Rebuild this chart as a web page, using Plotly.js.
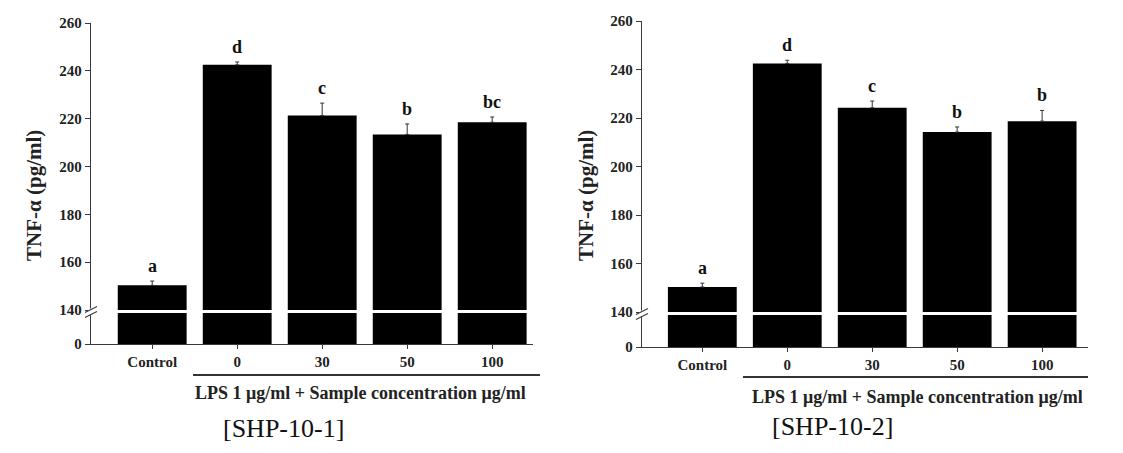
<!DOCTYPE html>
<html>
<head>
<meta charset="utf-8">
<script src="https://cdn.plot.ly/plotly-3.0.1.min.js"></script>
<style>html,body{margin:0;padding:0;background:#fff;}#chart{width:1123px;height:453px;}</style>
</head>
<body>
<div id="chart"></div>
<script>
// ---- data ----
const categories = ["Control", "0", "30", "50", "100"];
const values1 = [150.3, 242.5, 221.3, 213.4, 218.5];
const errors1 = [1.8, 1.2, 5.2, 4.4, 2.2];
const letters1 = ["a", "d", "c", "b", "bc"];
const values2 = [150.3, 242.5, 224.2, 214.2, 218.7];
const errors2 = [1.6, 1.3, 2.8, 2.1, 4.4];
const letters2 = ["a", "d", "c", "b", "b"];
const yTicks = [140, 160, 180, 200, 220, 240, 260];
const yTitle = "TNF-α (pg/ml)";
const groupLabel = "LPS 1 μg/ml + Sample concentration μg/ml";
const captions = ["[SHP-10-1]", "[SHP-10-2]"];

// ---- helpers (pixel -> paper) ----
const W = 1123, H = 453;
const px = x => x / W;
const py = y => 1 - y / H;

const serif = "Liberation Serif, Times New Roman, serif";
const axisColor = "#3a3a3a";
const tickFont = {family: serif, size: 15, color: "#222", weight: "bold"};

function barPair(vals, errs, xa, yUp, yLow) {
  const up = {
    type: "bar", x: categories, y: vals, xaxis: xa, yaxis: yUp,
    marker: {color: "#000", line: {width: 0}},
    error_y: {type: "data", symmetric: false, array: errs, arrayminus: errs.map(() => 0),
              color: "#333", thickness: 1, width: 2},
    hoverinfo: "skip", showlegend: false
  };
  const low = {
    type: "bar", x: categories, y: vals, xaxis: xa, yaxis: yLow,
    marker: {color: "#000", line: {width: 0}},
    hoverinfo: "skip", showlegend: false
  };
  return [up, low];
}

const traces = [
  ...barPair(values1, errors1, "x", "y", "y2"),
  ...barPair(values2, errors2, "x2", "y3", "y4")
];

function xaxisDef(d0, d1, r0, r1, anchor) {
  return {
    type: "category", categoryarray: categories, categoryorder: "array",
    domain: [px(d0), px(d1)], range: [r0, r1], anchor: anchor,
    showline: true, linecolor: axisColor, linewidth: 1.2,
    ticks: "outside", ticklen: 4, tickcolor: axisColor,
    showgrid: false, zeroline: false, tickfont: tickFont, fixedrange: true
  };
}
function yUpDef(top, bottom, anchor) {
  return {
    domain: [py(bottom), py(top)], range: [140, 260], anchor: anchor,
    tickvals: yTicks, ticktext: yTicks.map(String),
    showline: true, linecolor: axisColor, linewidth: 1.2,
    ticks: "outside", ticklen: 5, tickcolor: axisColor,
    showgrid: false, zeroline: false, tickfont: tickFont, fixedrange: true
  };
}
function yLowDef(top, bottom, anchor) {
  return {
    domain: [py(bottom), py(top)], range: [0, 140], anchor: anchor,
    tickvals: [0], ticktext: ["0"],
    showline: true, linecolor: axisColor, linewidth: 1.2,
    ticks: "outside", ticklen: 5, tickcolor: axisColor,
    showgrid: false, zeroline: false, tickfont: tickFont, fixedrange: true
  };
}

const annotations = [];
function letterAnn(vals, errs, letters, xa, ya) {
  vals.forEach((v, i) => {
    annotations.push({
      x: i, y: v + errs[i], xref: xa, yref: ya,
      text: letters[i], showarrow: false, xanchor: "center", yanchor: "bottom", yshift: 3,
      font: {family: serif, size: 18, color: "#111", weight: "bold"}
    });
  });
}
letterAnn(values1, errors1, letters1, "x", "y");
letterAnn(values2, errors2, letters2, "x2", "y3");

// y titles
[[34, 196], [586, 196]].forEach(([x, y]) => {
  annotations.push({
    x: px(x), y: py(y), xref: "paper", yref: "paper", text: yTitle, textangle: -90,
    xanchor: "center", yanchor: "middle",
    showarrow: false, font: {family: serif, size: 21, color: "#222", weight: "bold"}
  });
});
// group labels
[[361, 393], [917, 397]].forEach(([x, y]) => {
  annotations.push({
    x: px(x), y: py(y), xref: "paper", yref: "paper", text: groupLabel,
    xanchor: "center", yanchor: "middle",
    showarrow: false, font: {family: serif, size: 18, color: "#222", weight: "bold"}
  });
});
// captions
[[283, 428], [832, 426]].forEach(([x, y], i) => {
  annotations.push({
    x: px(x), y: py(y), xref: "paper", yref: "paper", text: captions[i],
    xanchor: "center", yanchor: "middle",
    showarrow: false, font: {family: serif, size: 26, color: "#111"}
  });
});

const shapes = [];
// group underline
[[193, 540, 375], [743, 1088, 377]].forEach(([x0, x1, y]) => {
  shapes.push({type: "line", xref: "paper", yref: "paper", x0: px(x0), x1: px(x1), y0: py(y), y1: py(y),
               line: {color: "#333", width: 2}});
});
// axis break marks
[[91, 311.5], [642, 313.5]].forEach(([x, y]) => {
  shapes.push({type: "rect", xref: "paper", yref: "paper", x0: px(x - 3), x1: px(x + 3), y0: py(y + 3), y1: py(y - 3),
               fillcolor: "#fff", line: {width: 0}});
  shapes.push({type: "line", xref: "paper", yref: "paper", x0: px(x - 6), x1: px(x + 6), y0: py(y + 1), y1: py(y - 5),
               line: {color: axisColor, width: 1.2}});
  shapes.push({type: "line", xref: "paper", yref: "paper", x0: px(x - 6), x1: px(x + 6), y0: py(y + 6), y1: py(y),
               line: {color: axisColor, width: 1.2}});
});

const layout = {
  width: W, height: H, margin: {l: 0, r: 0, t: 0, b: 0},
  paper_bgcolor: "#fff", plot_bgcolor: "rgba(0,0,0,0)",
  bargap: 0.19, showlegend: false,
  xaxis: xaxisDef(91, 533, -0.72, 4.48, "y2"),
  yaxis: yUpDef(23, 310, "x"),
  yaxis2: yLowDef(313, 344, "x"),
  xaxis2: xaxisDef(642, 1088, -0.71, 4.54, "y4"),
  yaxis3: yUpDef(21, 312, "x2"),
  yaxis4: yLowDef(315, 347, "x2"),
  annotations: annotations, shapes: shapes
};

Plotly.newPlot("chart", traces, layout, {staticPlot: true, displayModeBar: false});
</script>
</body>
</html>
